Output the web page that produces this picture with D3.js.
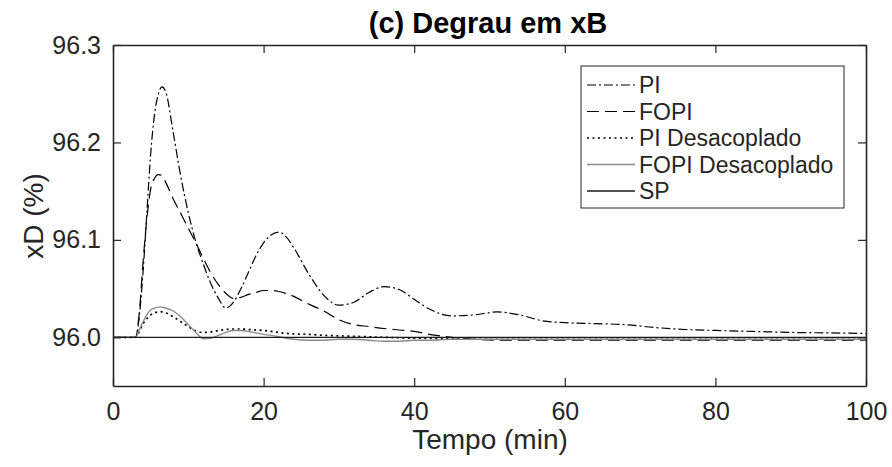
<!DOCTYPE html>
<html>
<head>
<meta charset="utf-8">
<script src="https://cdn.jsdelivr.net/npm/d3@7"></script>
<style>
  body { margin: 0; background: #fff; }
  text { font-family: "Liberation Sans", Arial, sans-serif; fill: #262626; }
</style>
</head>
<body>
<div id="chart"></div>
<script>
// tempo (min)
var tempo = [0, 3, 3.5, 4, 4.5, 5, 5.5, 6, 6.5, 7, 8, 9, 10, 11, 12, 13, 14, 15, 16, 17, 18, 19, 20,
             21, 22, 23, 24, 26, 28, 30, 32, 34, 36, 38, 40, 42, 45, 48, 51, 54, 57, 60, 64, 68,
             72, 76, 80, 85, 90, 95, 100];

var pi = [96.0, 96.0, 96.022, 96.068, 96.128, 96.188, 96.228, 96.249, 96.257, 96.252, 96.21, 96.165, 96.128, 96.098, 96.075, 96.055, 96.040, 96.030, 96.036, 96.050, 96.067, 96.084, 96.097,
          96.105, 96.108, 96.103, 96.092, 96.065, 96.043, 96.033, 96.036, 96.046, 96.052, 96.049, 96.039, 96.029, 96.022, 96.023, 96.026, 96.023, 96.017, 96.015, 96.014, 96.013,
          96.010, 96.008, 96.007, 96.006, 96.005, 96.0045, 96.004];

var fopi = [96.0, 96.0, 96.026, 96.078, 96.122, 96.152, 96.163, 96.167, 96.166, 96.159, 96.142, 96.127, 96.112, 96.097, 96.081, 96.066, 96.054, 96.045, 96.040, 96.041, 96.044, 96.046, 96.048,
            96.048, 96.047, 96.045, 96.042, 96.034, 96.027, 96.018, 96.013, 96.011, 96.009, 96.0075, 96.006, 96.003, 96.000, 95.998, 95.997, 95.997, 95.997, 95.997, 95.997, 95.997,
            95.997, 95.997, 95.997, 95.997, 95.997, 95.997, 95.997];

var piDesac = [96.0, 96.0, 96.006, 96.014, 96.019, 96.023, 96.025, 96.026, 96.026, 96.025, 96.021, 96.016, 96.011, 96.0065, 96.005, 96.0055, 96.007, 96.008, 96.0085, 96.0085, 96.008, 96.0075, 96.007,
               96.006, 96.005, 96.004, 96.0035, 96.003, 96.002, 96.0015, 96.001, 96.0005, 96.0, 95.9995, 95.999, 95.999, 95.9985, 95.998, 95.998, 95.998, 95.998, 95.998, 95.998, 95.998,
               95.998, 95.998, 95.998, 95.998, 95.998, 95.998, 95.998];

var fopiDesac = [96.0, 96.0, 96.008, 96.016, 96.023, 96.028, 96.030, 96.031, 96.031, 96.030, 96.027, 96.021, 96.013, 96.005, 95.9985, 95.999, 96.002, 96.005, 96.007, 96.007, 96.006, 96.0045, 96.003,
                 96.002, 96.0005, 95.999, 95.998, 95.997, 95.997, 95.998, 95.998, 95.997, 95.996, 95.996, 95.997, 95.997, 95.998, 95.998, 95.998, 95.998, 95.998, 95.998, 95.998, 95.998,
                 95.998, 95.998, 95.998, 95.998, 95.998, 95.998, 95.998];

var sp = [96.0, 96.0];
var spTempo = [0, 100];

var xTicks = [0, 20, 40, 60, 80, 100];
var yTicks = [96.0, 96.1, 96.2, 96.3];

var nomes = ["PI", "FOPI", "PI Desacoplado", "FOPI Desacoplado", "SP"];

var width = 892, height = 467;

var x = d3.scaleLinear().domain([0, 100]).range([113, 866]);
var y = d3.scaleLinear().domain([95.95, 96.3]).range([386, 45]);

var svg = d3.select("#chart").append("svg")
    .attr("width", width).attr("height", height)
    .style("background", "#fff");

var series = [
    { name: nomes[0], t: tempo, v: pi, color: "#000", dash: "9,3,2,3", w: 1.2 },
    { name: nomes[1], t: tempo, v: fopi, color: "#000", dash: "12,6", w: 1.2 },
    { name: nomes[2], t: tempo, v: piDesac, color: "#000", dash: "2,3.5", w: 1.7 },
    { name: nomes[3], t: tempo, v: fopiDesac, color: "#8a8a8a", dash: null, w: 1.4 },
    { name: nomes[4], t: spTempo, v: sp, color: "#1a1a1a", dash: null, w: 1.3 }
];

var line = d3.line()
    .x(function(d){ return x(d[0]); })
    .y(function(d){ return y(d[1]); })
    .curve(d3.curveMonotoneX);

var plot = svg.append("g");
plot.append("clipPath").attr("id", "clip")
    .append("rect").attr("x", 113).attr("y", 45).attr("width", 753).attr("height", 341);

series.forEach(function(s){
    var pts = s.t.map(function(t, i){ return [t, s.v[i]]; });
    plot.append("path")
        .attr("d", line(pts))
        .attr("clip-path", "url(#clip)")
        .attr("fill", "none")
        .attr("stroke", s.color)
        .attr("stroke-width", s.w)
        .attr("stroke-dasharray", s.dash);
});

// eixos (ticks para dentro, caixa completa)
var xAxis = d3.axisBottom(x).tickValues(xTicks).tickSizeInner(-8).tickSizeOuter(0).tickPadding(16);
var yAxis = d3.axisLeft(y).tickValues(yTicks).tickFormat(d3.format(".1f")).tickSizeInner(-8).tickSizeOuter(0).tickPadding(12);
var xTop = d3.axisTop(x).tickValues(xTicks).tickSizeInner(-8).tickSizeOuter(0).tickFormat("");
var yRight = d3.axisRight(y).tickValues(yTicks).tickSizeInner(-8).tickSizeOuter(0).tickFormat("");

function estilo(g, fs){
    g.selectAll("path").attr("stroke", "#262626").attr("stroke-width", 1.6);
    g.selectAll("line").attr("stroke", "#262626").attr("stroke-width", 1.2);
    g.selectAll("text").attr("fill", "#262626").style("font-size", fs + "px")
        .style("font-family", "'Liberation Sans', Arial, sans-serif");
}

svg.append("g").attr("transform", "translate(0,386)").call(xAxis).call(estilo, 25);
svg.append("g").attr("transform", "translate(113,0)").call(yAxis).call(estilo, 25);
svg.append("g").attr("transform", "translate(0,45)").call(xTop).call(estilo, 25);
svg.append("g").attr("transform", "translate(866,0)").call(yRight).call(estilo, 25);

// titulo e rotulos
svg.append("text")
    .attr("x", 488).attr("y", 33)
    .attr("text-anchor", "middle")
    .style("font-size", "29px").style("font-weight", "bold")
    .style("fill", "#000")
    .text("(c) Degrau em xB");

svg.append("text")
    .attr("x", 490).attr("y", 449)
    .attr("text-anchor", "middle")
    .style("font-size", "28px")
    .text("Tempo (min)");

svg.append("text")
    .attr("transform", "translate(43,216) rotate(-90)")
    .attr("text-anchor", "middle")
    .style("font-size", "28px")
    .text("xD (%)");

// legenda
var leg = svg.append("g");
leg.append("rect")
    .attr("x", 581).attr("y", 66).attr("width", 263).attr("height", 142)
    .attr("fill", "#fff").attr("stroke", "#262626").attr("stroke-width", 1);

series.forEach(function(s, i){
    var ly = 85 + i * 26.5;
    leg.append("line")
        .attr("x1", 587).attr("x2", 635).attr("y1", ly).attr("y2", ly)
        .attr("stroke", s.color).attr("stroke-width", s.w)
        .attr("stroke-dasharray", s.dash);
    leg.append("text")
        .attr("x", 639).attr("y", ly)
        .attr("dy", "0.35em")
        .style("font-size", "23px")
        .text(s.name);
});
</script>
</body>
</html>
